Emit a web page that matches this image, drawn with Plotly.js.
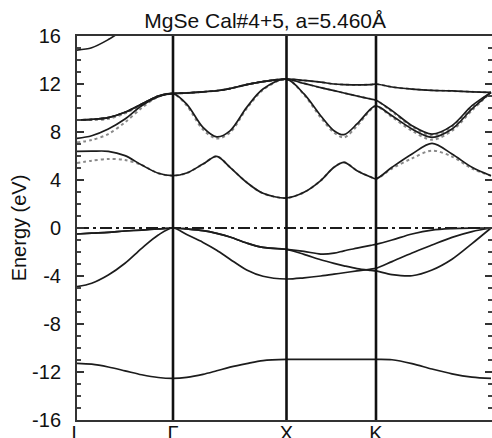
<!DOCTYPE html>
<html>
<head>
<meta charset="utf-8">
<script src="https://cdn.plot.ly/plotly-3.0.1.min.js"></script>
<style>html,body{margin:0;padding:0;background:#fff;}#chart{width:492px;height:438px;}</style>
</head>
<body>
<div id="chart"></div>
<script>
// High-symmetry points along the k-path (L - Γ - X - K - Γ)
var symLabels = ['L', 'Γ', 'X', 'K', 'Γ'];
var symK = [0, 96, 209.5, 299, 414];
var fermiEnergy = 0;

// Energy axis ticks
var energyTicks = [-16, -12, -8, -4, 0, 4, 8, 12, 16];
var energyTickLabels = ['-16', '-12', '-8', '-4', '0', '4', '8', '12', '16'];

// shared k grid (L-Γ, Γ-X, X-K, K-Γ)
var kGrid = [0, 14.7, 31.3, 48, 64.7, 81.3, 96,
             109.7, 126, 139.7, 153, 169.7, 186, 209.5,
             227, 243.7, 257, 267, 280, 293.7, 299,
             315, 335, 355, 375, 395, 414];

// Energies (eV) – solid (calculation A)
var bandV0 = [-11.28, -11.35, -11.58, -11.9, -12.23, -12.46, -12.53,
              -12.45, -12.2, -11.9, -11.6, -11.3, -11.05, -10.95,
              -10.95, -10.95, -10.95, -10.95, -10.95, -10.95, -10.95,
              -10.98, -11.3, -11.75, -12.15, -12.42, -12.53];
var bandV1 = [-4.89, -4.6, -3.92, -2.94, -1.69, -0.58, 0,
              -0.55, -1.2, -1.85, -2.6, -3.5, -4.02, -4.25,
              -4.15, -4.0, -3.85, -3.73, -3.58, -3.43, -3.36,
              -2.8, -2.08, -1.42, -0.78, -0.3, 0];
var bandV2 = [-0.5, -0.43, -0.36, -0.25, -0.17, -0.08, 0,
              -0.08, -0.22, -0.45, -0.75, -1.25, -1.62, -1.78,
              -2.2, -2.65, -2.95, -3.15, -3.38, -3.53, -3.58,
              -3.88, -3.98, -3.5, -2.6, -1.3, 0];
var bandV3 = [-0.5, -0.43, -0.36, -0.25, -0.17, -0.08, 0,
              -0.08, -0.22, -0.45, -0.75, -1.25, -1.62, -1.78,
              -1.95, -2.17, -2.1, -1.9, -1.68, -1.45, -1.36,
              -1.0, -0.5, -0.17, -0.05, -0.01, 0];
var bandC1 = [6.39, 6.4, 6.39, 6.03, 5.25, 4.56, 4.36,
              4.58, 5.33, 5.97, 5.06, 3.8, 2.89, 2.5,
              2.97, 3.95, 5.06, 5.47, 4.78, 4.25, 4.1,
              5.06, 6.17, 7.05, 6.17, 5.06, 4.36];
var bandC2 = [7.47, 7.69, 8.25, 9.08, 10.19, 10.94, 11.2,
              10.33, 8.39, 7.6, 8.1, 10.05, 11.58, 12.4,
              11.17, 9.36, 8.11, 7.78, 8.67, 9.92, 10.17,
              9.36, 8.25, 7.56, 8.25, 9.92, 11.3];
var bandC3 = [9.0, 9.05, 9.2, 9.64, 10.33, 11.0, 11.2,
              11.25, 11.35, 11.44, 11.62, 11.95, 12.2, 12.4,
              12.05, 11.7, 11.45, 11.25, 11.0, 10.75, 10.65,
              9.78, 8.53, 7.83, 8.53, 10.19, 11.3];
var bandC4 = [9.0, 9.05, 9.2, 9.64, 10.33, 11.0, 11.2,
              11.25, 11.35, 11.44, 11.62, 11.95, 12.2, 12.4,
              12.3, 12.15, 12.0, 11.95, 11.92, 11.95, 12.0,
              11.75, 11.58, 11.47, 11.42, 11.35, 11.3];
var bandC5 = [14.83, 15.02, 15.7, 16.6, 17.4, null, null,
              null, null, null, null, null, null, null,
              null, null, null, null, null, null, null,
              null, null, null, null, null, null];

// Energies (eV) – dotted (calculation B), where it differs
var dotC1 = [5.42, 5.61, 5.75, 5.67, 5.25, 4.56, 4.36,
             4.58, 5.33, 5.97, 5.06, 3.8, 2.89, 2.5,
             2.97, 3.95, 5.06, 5.47, 4.78, 4.25, 4.1,
             4.95, 5.8, 6.45, 5.95, 4.95, 4.36];
var dotC2 = [7.14, 7.33, 7.83, 8.81, 10.0, 10.94, 11.2,
             10.2, 8.2, 7.45, 7.95, 9.95, 11.5, 12.4,
             11.1, 9.2, 7.95, 7.55, 8.5, 9.85, 10.15,
             9.25, 8.1, 7.35, 8.1, 9.8, 11.3];
var dotC3 = [9.0, 9.05, 9.2, 9.64, 10.33, 11.0, 11.2,
             11.25, 11.35, 11.44, 11.62, 11.95, 12.2, 12.4,
             12.05, 11.7, 11.45, 11.25, 11.0, 10.75, 10.65,
             9.7, 8.45, 7.7, 8.45, 10.1, 11.3];
var dotC4 = [9.0, 9.0, 9.1, 9.55, 10.25, 11.0, 11.2,
             11.25, 11.35, 11.44, 11.62, 11.95, 12.2, 12.4,
             12.3, 12.15, 12.0, 11.95, 11.92, 11.95, 12.0,
             11.75, 11.58, 11.47, 11.42, 11.35, 11.3];

var solidBands = [bandV0, bandV1, bandV2, bandV3, bandC1, bandC2, bandC3, bandC4, bandC5];
var dottedBands = [dotC1, dotC2, dotC3, dotC4];

var traces = [];
dottedBands.forEach(function (e) {
  traces.push({x: kGrid, y: e, mode: 'lines', type: 'scatter', hoverinfo: 'skip',
    line: {color: '#8a8a8a', width: 2, dash: 'dot', shape: 'spline', smoothing: 0.9}, connectgaps: false});
});
solidBands.forEach(function (e) {
  traces.push({x: kGrid, y: e, mode: 'lines', type: 'scatter', hoverinfo: 'skip',
    line: {color: '#1c1c1c', width: 1.7, shape: 'spline', smoothing: 0.9}, connectgaps: false});
});
traces.push({x: [symK[0], symK[symK.length - 1]], y: [fermiEnergy, fermiEnergy], mode: 'lines', type: 'scatter',
  hoverinfo: 'skip', line: {color: '#1c1c1c', width: 2, dash: '12px,4px,3px,4px'}});

var shapes = symK.slice(1, symK.length - 1).map(function (k) {
  return {type: 'line', xref: 'x', yref: 'paper', x0: k, x1: k, y0: 0, y1: 1,
    line: {color: '#111', width: 2.6}};
});

var font = 'Liberation Sans, Arial, sans-serif';
var layout = {
  width: 492, height: 438,
  margin: {l: 77, r: 0, t: 36, b: 18},
  paper_bgcolor: '#fff', plot_bgcolor: '#fff',
  showlegend: false,
  title: {text: 'MgSe Cal#4+5, a=5.460Å', font: {family: font, size: 21, color: '#111'},
    x: 0.539, xref: 'container', xanchor: 'center', y: 0.953, yref: 'container', yanchor: 'middle'},
  xaxis: {range: [0, 415], tickvals: symK, ticktext: symLabels, showgrid: false, zeroline: false,
    showline: true, linecolor: '#333', linewidth: 2, mirror: true, ticks: '',
    ticklabelstandoff: -6,
    tickfont: {family: font, size: 20, color: '#111'}, fixedrange: true},
  yaxis: {range: [-16, 16], tickvals: energyTicks, ticktext: energyTickLabels, showgrid: false, zeroline: false,
    showline: true, linecolor: '#333', linewidth: 2, mirror: 'ticks',
    ticks: 'inside', ticklen: 7, tickwidth: 1.5, tickcolor: '#333',
    minor: {ticks: 'inside', dtick: 1, ticklen: 4, tickwidth: 1.2, tickcolor: '#444'},
    ticklabelstandoff: 10,
    tickfont: {family: font, size: 20, color: '#111'},
    title: {text: 'Energy (eV)', font: {family: font, size: 20, color: '#111'}, standoff: 0},
    fixedrange: true},
  shapes: shapes
};

Plotly.newPlot('chart', traces, layout, {displayModeBar: false, staticPlot: true});
</script>
</body>
</html>
